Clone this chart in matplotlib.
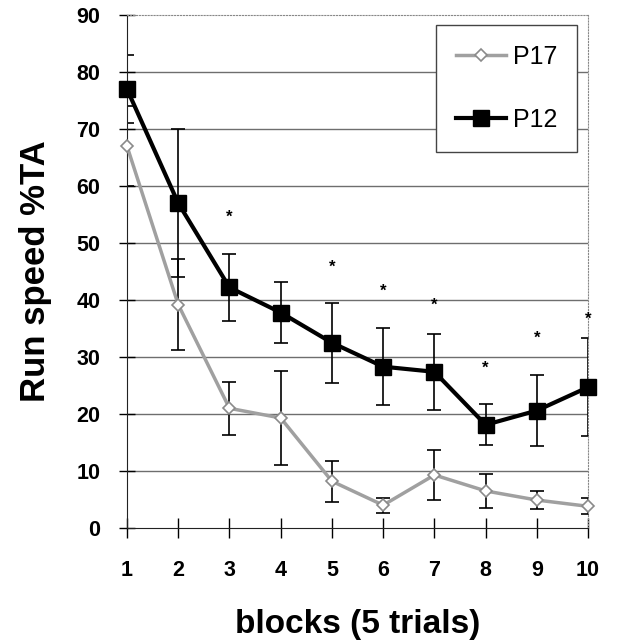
import matplotlib
matplotlib.use("Agg")
import matplotlib.pyplot as plt
import numpy as np

plt.rcParams['font.family'] = ['Liberation Sans', 'DejaVu Sans']

blocks = [1, 2, 3, 4, 5, 6, 7, 8, 9, 10]
p17_mean = [67, 39.2, 21, 19.3, 8.2, 4.0, 9.3, 6.5, 4.9, 3.8]
p17_err = [7, 8, 4.7, 8.2, 3.6, 1.3, 4.4, 3.0, 1.6, 1.4]
p12_mean = [77, 57, 42.2, 37.8, 32.5, 28.3, 27.4, 18.1, 20.6, 24.7]
p12_err = [6, 13, 5.8, 5.3, 7, 6.7, 6.7, 3.6, 6.3, 8.6]
star_blocks = [3, 5, 6, 7, 8, 9, 10]
star_y = [54.6, 45.8, 41.6, 39.1, 28.1, 33.3, 36.7]
y_ticks = [0, 10, 20, 30, 40, 50, 60, 70, 80, 90]

fig = plt.figure(figsize=(6.21, 6.42), dpi=100)
ax = fig.add_axes([0.2045, 0.1776, 0.7425, 0.799])

for y in y_ticks[1:-1]:
    ax.axhline(y, color='#6e6e6e', lw=1.0, zorder=0)

ax.errorbar(blocks, p17_mean, yerr=p17_err, fmt='none', ecolor='black',
            elinewidth=1.2, capsize=4.7, capthick=1.2, zorder=2)
ax.errorbar(blocks, p12_mean, yerr=p12_err, fmt='none', ecolor='black',
            elinewidth=1.2, capsize=4.7, capthick=1.2, zorder=2)

ax.plot(blocks, p17_mean, color='#a0a0a0', lw=2.5, marker='D', markersize=6.5,
        markerfacecolor='white', markeredgecolor='#8a8a8a', markeredgewidth=1.2,
        label='P17', zorder=3, clip_on=False)
ax.plot(blocks, p12_mean, color='black', lw=3, marker='s', markersize=11,
        markerfacecolor='black', markeredgecolor='black',
        label='P12', zorder=4, clip_on=False)

for xb, ys in zip(star_blocks, star_y):
    ax.text(xb, ys, '*', ha='center', va='center', fontsize=12, fontweight='bold')

ax.set_xlim(1, 10)
ax.set_ylim(0, 90)
ax.set_xticks(blocks)
ax.set_yticks(y_ticks)
ax.tick_params(axis='y', direction='inout', length=12, width=1, labelsize=15.5, pad=13)
ax.tick_params(axis='x', direction='inout', length=14, width=1, labelsize=15.5, pad=16)
for lab in ax.get_xticklabels() + ax.get_yticklabels():
    lab.set_fontweight('bold')

ax.spines['left'].set_color('#222222')
ax.spines['bottom'].set_color('#222222')
for s in ['top', 'right']:
    ax.spines[s].set_color('#888888')
    ax.spines[s].set_linestyle(':')

ax.set_ylabel('Run speed %TA', fontsize=25, fontweight='bold', labelpad=18)
ax.set_xlabel('blocks (5 trials)', fontsize=24, fontweight='bold', labelpad=20)

leg = ax.legend(loc='upper right', bbox_to_anchor=(0.976, 0.9805), fontsize=18,
                frameon=True, fancybox=False, framealpha=1, edgecolor='#444444',
                handlelength=2.0, labelspacing=1.55, borderpad=0.8, handletextpad=0.25,
                borderaxespad=0)
leg.get_frame().set_linewidth(1.0)

fig.savefig('out.png', dpi=100, facecolor='white')
